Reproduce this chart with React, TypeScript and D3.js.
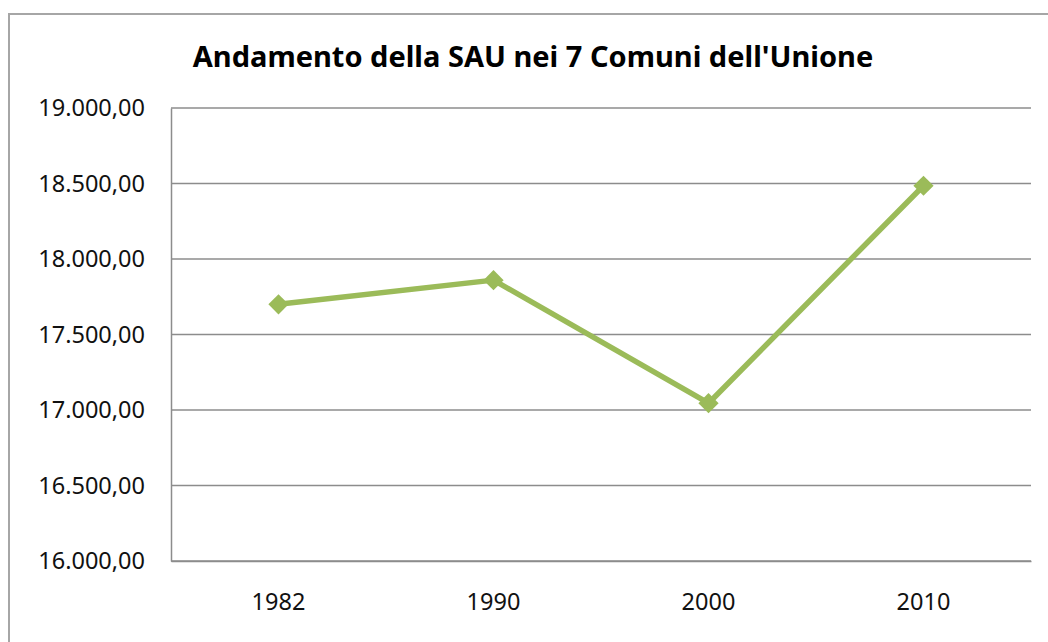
import React, { useEffect, useRef } from "react";
import * as d3 from "d3";

const years = ["1982", "1990", "2000", "2010"];
const sau = [17700, 17860, 17045, 18485];
const yTicks = [16000, 16500, 17000, 17500, 18000, 18500, 19000];
const title = "Andamento della SAU nei 7 Comuni dell'Unione";

const width = 1048;
const height = 642;
const margin = { top: 108, left: 171, bottom: 81, right: 17 };
const green = "#9bbb59";
const font = "'Noto Sans', sans-serif";

const fmt = (v: number) =>
  d3.format(",.2f")(v).replace(/,/g, "#").replace(".", ",").replace(/#/g, ".");

export default function App() {
  const ref = useRef<SVGSVGElement>(null);

  useEffect(() => {
    const svg = d3.select(ref.current);
    svg.selectAll("*").remove();

    const iwidth = width - margin.left - margin.right;
    const iheight = height - margin.top - margin.bottom;

    // chart frame (runs off the right and bottom of the picture)
    svg.append("rect")
      .attr("x", 9).attr("y", 14)
      .attr("width", 1100).attr("height", 700)
      .attr("fill", "white")
      .attr("stroke", "#a6a6a6")
      .attr("stroke-width", 2);

    svg.append("text")
      .attr("x", 533).attr("y", 67)
      .attr("text-anchor", "middle")
      .style("font-family", font)
      .style("font-weight", "bold")
      .style("font-size", "29px")
      .attr("fill", "#000")
      .text(title);

    const g = svg.append("g").attr("transform", `translate(${margin.left},${margin.top})`);

    const x = d3.scaleBand().domain(years).range([0, iwidth]);
    const y = d3.scaleLinear().domain([16000, 19000]).range([iheight, 0]);

    // gridlines
    g.append("g")
      .selectAll("line")
      .data(yTicks)
      .enter().append("line")
      .attr("x1", 0).attr("x2", iwidth)
      .attr("y1", d => y(d)).attr("y2", d => y(d))
      .attr("stroke", "#8c8c8c")
      .attr("stroke-width", 1.5);

    // y axis
    const ya = g.append("g")
      .call(d3.axisLeft(y).tickValues(yTicks).tickFormat(d => fmt(+d)).tickSize(0).tickPadding(26));
    ya.select(".domain").attr("stroke", "#8c8c8c").attr("stroke-width", 1.5);
    ya.selectAll("text")
      .style("font-family", font)
      .style("font-size", "23.5px")
      .attr("fill", "#111");

    // x axis
    const xa = g.append("g")
      .attr("transform", `translate(0,${iheight})`)
      .call(d3.axisBottom(x).tickSize(0).tickPadding(32));
    xa.select(".domain").attr("stroke", "#8c8c8c").attr("stroke-width", 1.5);
    xa.selectAll("text")
      .style("font-family", font)
      .style("font-size", "23.5px")
      .attr("fill", "#111");

    const cx = (d: string) => (x(d) as number) + x.bandwidth() / 2;

    const line = d3.line<number>()
      .x((_, i) => cx(years[i]))
      .y(d => y(d));

    g.append("path")
      .datum(sau)
      .attr("d", line)
      .attr("fill", "none")
      .attr("stroke", green)
      .attr("stroke-width", 5.5)
      .attr("stroke-linejoin", "round");

    g.append("g")
      .selectAll("path")
      .data(sau)
      .enter().append("path")
      .attr("d", d3.symbol().type(d3.symbolDiamond2).size(260))
      .attr("transform", (d, i) => `translate(${cx(years[i])},${y(d)})`)
      .attr("fill", green);
  }, []);

  return (
    <svg
      ref={ref}
      width={width}
      height={height}
      style={{ position: "absolute", left: 0, top: 0, background: "white" }}
    />
  );
}
